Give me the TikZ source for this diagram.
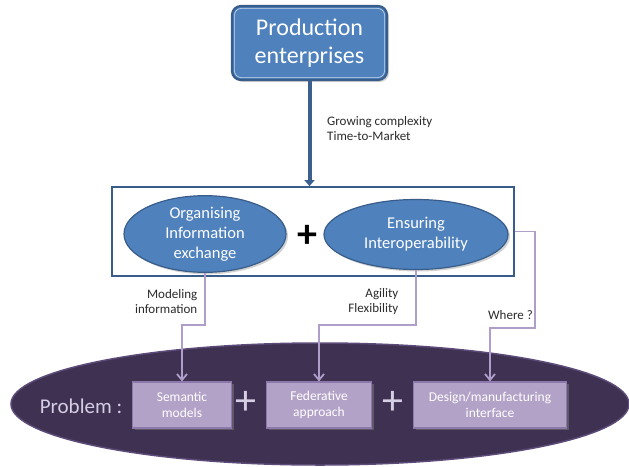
\documentclass[tikz,border=0pt]{standalone}
\usepackage{fontspec}
\setmainfont{Carlito}
\usetikzlibrary{shapes.geometric,arrows.meta,shadows}
\definecolor{boxblue}{HTML}{4F81BD}
\definecolor{edgeblue}{HTML}{385D8A}
\definecolor{arrowblue}{HTML}{3B5F8E}
\definecolor{darkpurple}{HTML}{3F3151}
\definecolor{darkpurpleedge}{HTML}{5C4A78}
\definecolor{lilac}{HTML}{B3A2C7}
\definecolor{lilacedge}{HTML}{8C78AA}
\definecolor{connpurple}{HTML}{B09ECA}
\definecolor{probtext}{HTML}{D6CEE4}
\definecolor{labeltext}{HTML}{2A2A2A}
\tikzset{
  topbox/.style={draw=edgeblue, line width=2.2pt, fill=boxblue, rounded corners=9pt,
    minimum width=155pt, minimum height=74pt, text=white, align=center,
    font=\fontsize{24}{28}\selectfont, inner sep=0pt,
    drop shadow={opacity=0.35, shadow xshift=2pt, shadow yshift=-2pt}},
  innerline/.style={draw=white!70!boxblue, line width=0.6pt, rounded corners=7pt},
  framebox/.style={draw=edgeblue, line width=1.8pt, fill=white,
    minimum width=402pt, minimum height=89pt, inner sep=0pt},
  blueell/.style={ellipse, draw=edgeblue, line width=1.2pt, fill=boxblue, text=white,
    align=center, inner sep=0pt, font=\fontsize{16.5}{20}\selectfont,
    drop shadow={opacity=0.35, shadow xshift=2pt, shadow yshift=-2pt}},
  probell/.style={ellipse, draw=darkpurpleedge, line width=1.5pt, fill=darkpurple,
    minimum width=618pt, minimum height=122pt, inner sep=0pt},
  lilacbox/.style={draw=lilacedge, line width=1.2pt, fill=lilac, text=white,
    align=center, inner sep=0pt, minimum height=46pt,
    font=\fontsize{13.5}{16}\selectfont,
    drop shadow={opacity=0.5, shadow xshift=2pt, shadow yshift=-2pt}},
  smalllbl/.style={text=labeltext, inner sep=0pt, font=\fontsize{13}{15}\selectfont},
  plussign/.style={inner sep=0pt, font=\fontsize{40}{40}\selectfont\bfseries},
  lightplus/.style={inner sep=0pt, font=\fontsize{42}{42}\selectfont},
  conn/.style={draw=connpurple, line width=1.8pt, -{Straight Barb[length=6pt,width=10pt]}},
  toparrow/.style={draw=arrowblue, line width=4pt, -{Triangle[length=6pt,width=10pt]}}
}
\begin{document}
\begin{tikzpicture}[x=1pt,y=-1pt]
\useasboundingbox (0,0) rectangle (629,466);
% top box
\node[topbox] (prod) at (309.5,43) {Production\\enterprises};
\draw[innerline] ([shift={(3.5pt,3.5pt)}]prod.south west) rectangle ([shift={(-3.5pt,-3.5pt)}]prod.north east);
% middle frame and ellipses
\node[framebox] (frame) at (313,231.5) {};
\node[blueell, minimum width=162pt, minimum height=68pt] (ell1) at (205,234) {Organising\\Information\\exchange};
\node[blueell, minimum width=184pt, minimum height=70pt] (ell2) at (416,234.5) {Ensuring\\Interoperability};
\node[plussign, text=black] (plusA) at (307,236) {+};
% bottom ellipse and boxes
\node[probell] (prob) at (320,404) {};
\node[text=probtext, inner sep=0pt, font=\fontsize{21}{24}\selectfont] (problbl) at (81,406) {Problem :};
\node[lilacbox, minimum width=99pt] (sem) at (182,405) {Semantic\\models};
\node[lilacbox, minimum width=105pt] (fed) at (319,405) {Federative\\approach};
\node[lilacbox, minimum width=153pt] (des) at (490,405) {Design/manufacturing\\interface};
\node[lightplus, text=probtext] (plusB) at (246,403) {+};
\node[lightplus, text=probtext] (plusC) at (393,403) {+};
% labels
\node[smalllbl, anchor=west, align=left] (grow) at (327,128.5) {Growing complexity\\Time-to-Market};
\node[smalllbl, anchor=east, align=right] (modl) at (197.5,302) {Modeling\\information};
\node[smalllbl, anchor=east, align=right] (agil) at (398.5,302) {Agility\\Flexibility};
\node[smalllbl, anchor=east] (where) at (533,315) {Where ?};
% helper coordinates
\coordinate (m1) at (0,325);
\coordinate (w1) at (535,0);
\coordinate (w2) at (0,328);
% connectors
\draw[toparrow] (prod.south) -- (prod.south |- frame.north);
\draw[conn] (ell1.south) -- (ell1.south |- m1) -| (sem.north);
\draw[conn] (ell2.south) -- (ell2.south |- m1) -| (fed.north);
\draw[conn] (frame.east) -- (frame.east -| w1) -- (w1 |- w2) -| (des.north);
\end{tikzpicture}
\end{document}
